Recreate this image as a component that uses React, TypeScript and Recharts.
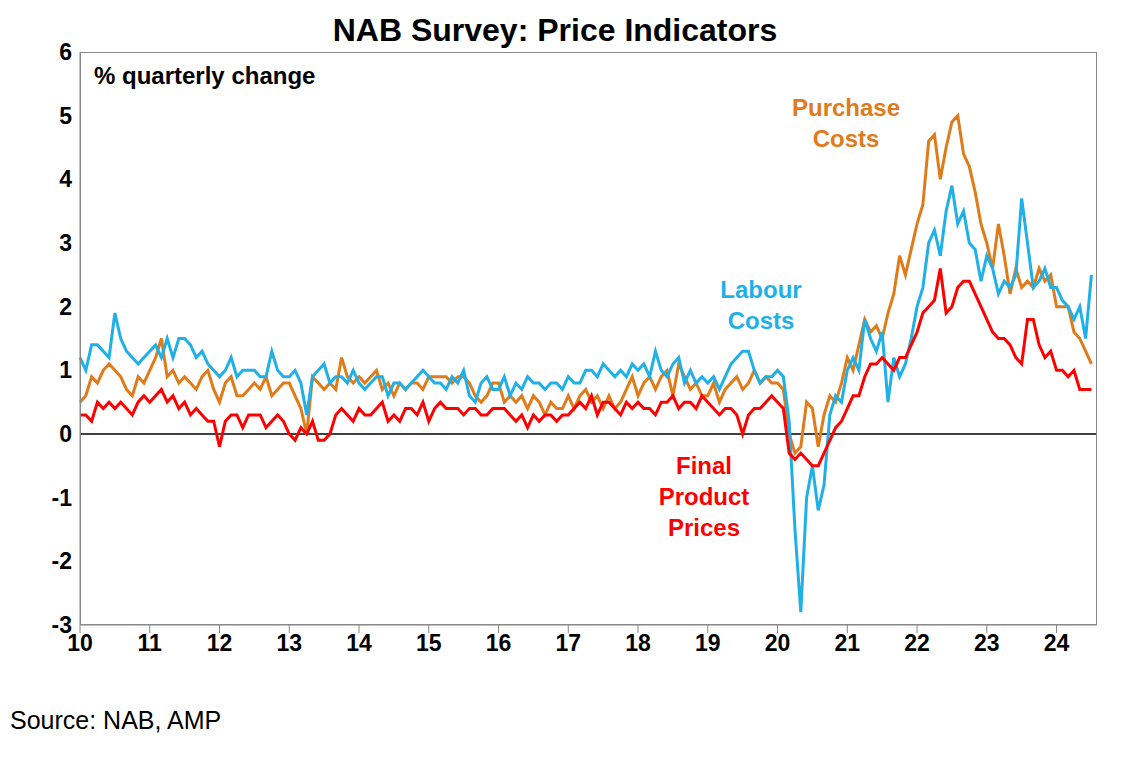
import { LineChart, Line, XAxis, YAxis, ReferenceLine } from "recharts";

const labour = [
  1.2,1.0,1.4,1.4,1.3,1.2,1.9,1.5,1.3,1.2,1.1,1.2,
  1.3,1.4,1.2,1.5,1.2,1.5,1.5,1.4,1.2,1.3,1.1,1.0,
  0.9,1.0,1.2,0.9,1.0,1.0,1.0,0.9,0.9,1.3,1.0,0.9,
  0.9,1.0,0.8,0.3,0.9,1.0,1.1,0.8,0.9,0.9,0.8,1.0,
  0.8,0.7,0.8,0.9,0.9,0.6,0.8,0.8,0.7,0.8,0.9,1.0,
  0.9,0.8,0.8,0.7,0.9,0.8,1.0,0.6,0.5,0.8,0.9,0.7,
  0.7,0.9,0.6,0.8,0.7,0.9,0.8,0.8,0.7,0.8,0.8,0.7,
  0.9,0.8,0.8,1.0,1.0,0.9,1.1,1.0,0.9,1.0,0.9,1.1,
  1.0,1.1,0.9,1.3,1.0,0.9,1.1,1.2,0.8,1.0,0.8,0.9,
  0.8,0.9,0.7,0.9,1.1,1.2,1.3,1.3,1.0,0.8,0.9,0.9,
  1.0,0.9,0.2,-1.5,-2.8,-1.0,-0.5,-1.2,-0.8,0.3,0.6,0.5,
  1.0,1.2,1.0,1.8,1.5,1.3,1.6,0.5,1.2,0.9,1.1,1.5,
  2.0,2.3,3.0,3.2,2.8,3.5,3.9,3.3,3.5,3.0,2.9,2.4,
  2.8,2.6,2.2,2.4,2.3,2.5,3.7,3.0,2.3,2.4,2.6,2.3,
  2.3,2.1,2.0,1.8,2.0,1.5,2.5,
];

const purchase = [
  0.5,0.6,0.9,0.8,1.0,1.1,1.0,0.9,0.7,0.6,0.9,0.8,
  1.0,1.2,1.5,0.9,1.0,0.8,0.9,0.8,0.7,0.9,1.0,0.7,
  0.5,0.8,0.9,0.6,0.6,0.7,0.8,0.7,0.9,0.6,0.7,0.8,
  0.8,0.6,0.4,0.0,0.9,0.8,0.7,0.8,0.7,1.2,0.9,0.8,
  0.9,0.8,0.9,1.0,0.7,0.8,0.6,0.8,0.7,0.8,0.8,0.7,
  0.9,0.9,0.9,0.9,0.8,0.9,0.9,0.8,0.6,0.5,0.6,0.8,
  0.8,0.5,0.6,0.5,0.6,0.4,0.6,0.5,0.3,0.5,0.4,0.4,
  0.6,0.4,0.6,0.7,0.5,0.6,0.4,0.6,0.4,0.5,0.7,0.9,
  0.6,0.8,0.9,0.7,0.9,1.0,0.6,1.1,0.9,0.7,0.8,0.6,
  0.6,0.8,0.5,0.7,0.8,0.9,0.7,0.8,1.0,0.8,0.9,0.8,
  0.8,0.7,0.0,-0.3,-0.2,0.5,0.4,-0.2,0.3,0.6,0.5,0.8,
  1.2,1.0,1.4,1.8,1.6,1.7,1.5,1.9,2.2,2.8,2.5,2.9,
  3.3,3.6,4.6,4.7,4.0,4.5,4.9,5.0,4.4,4.2,3.8,3.3,
  3.0,2.6,3.3,2.8,2.2,2.6,2.3,2.4,2.3,2.6,2.4,2.5,
  2.0,2.0,2.0,1.6,1.5,1.3,1.1,
];

const finalPrices = [
  0.3,0.3,0.2,0.5,0.4,0.5,0.4,0.5,0.4,0.3,0.5,0.6,
  0.5,0.6,0.7,0.5,0.6,0.4,0.5,0.3,0.4,0.3,0.2,0.2,
  -0.2,0.2,0.3,0.3,0.1,0.3,0.3,0.3,0.1,0.2,0.3,0.2,
  0.0,-0.1,0.1,0.0,0.2,-0.1,-0.1,0.0,0.3,0.4,0.3,0.2,
  0.4,0.3,0.3,0.4,0.5,0.2,0.3,0.2,0.4,0.4,0.3,0.5,
  0.2,0.4,0.5,0.4,0.4,0.4,0.3,0.4,0.4,0.3,0.3,0.4,
  0.4,0.4,0.3,0.2,0.3,0.1,0.3,0.2,0.3,0.3,0.2,0.3,
  0.3,0.4,0.5,0.4,0.6,0.3,0.5,0.5,0.4,0.3,0.5,0.4,
  0.5,0.4,0.4,0.3,0.5,0.5,0.6,0.4,0.5,0.5,0.4,0.6,
  0.5,0.4,0.3,0.4,0.4,0.3,0.0,0.3,0.4,0.4,0.5,0.6,
  0.5,0.4,-0.3,-0.4,-0.3,-0.4,-0.5,-0.5,-0.3,-0.1,0.1,0.2,
  0.4,0.6,0.6,0.9,1.1,1.1,1.2,1.1,1.0,1.2,1.2,1.4,
  1.6,1.9,2.0,2.1,2.6,1.9,2.0,2.3,2.4,2.4,2.2,2.0,
  1.8,1.6,1.5,1.5,1.4,1.2,1.1,1.8,1.8,1.4,1.2,1.3,
  1.0,1.0,0.9,1.0,0.7,0.7,0.7,
];

const xTicks = [10, 11, 12, 13, 14, 15, 16, 17, 18, 19, 20, 21, 22, 23, 24];
const yTicks = [-3, -2, -1, 0, 1, 2, 3, 4, 5, 6];

const data = labour.map((v, i) => ({
  x: 10 + i / 12,
  labour: v,
  purchase: purchase[i],
  final: finalPrices[i],
}));

const font = "'Liberation Sans', Arial, sans-serif";
const tickStyle = { fontSize: 23, fontWeight: 700, fill: "#000", fontFamily: font };

const label = (left: number, top: number, color: string, text: string, align: "left" | "center" = "center") => (
  <div
    style={{
      position: "absolute", left, top, color, fontFamily: font, fontWeight: 700,
      fontSize: 24, lineHeight: "31px", textAlign: align, whiteSpace: "pre",
      transform: align === "center" ? "translateX(-50%)" : undefined,
    }}
  >
    {text}
  </div>
);

export default function App() {
  return (
    <div style={{ position: "relative", width: 1110, height: 740 }}>
      <div style={{ position: "absolute", left: 0, width: 1094, top: 4, textAlign: "center", fontFamily: font, fontWeight: 700, fontSize: 32 }}>
        NAB Survey: Price Indicators
      </div>
      <LineChart width={1110} height={700} data={data} margin={{ top: 44, right: 21, bottom: 53, left: 22 }}>
        <XAxis
          dataKey="x" type="number" domain={[10, 24.58]} ticks={xTicks}
          tick={tickStyle} tickLine={{ stroke: "#888" }} axisLine={{ stroke: "#888" }}
          tickSize={8} height={30} interval={0}
        />
        <YAxis
          type="number" domain={[-3, 6]} ticks={yTicks} tick={tickStyle}
          tickLine={false} axisLine={{ stroke: "#888" }} width={50}
        />
        <ReferenceLine y={0} stroke="#000" strokeWidth={1.5} />
        <Line dataKey="purchase" stroke="#e07b1a" strokeWidth={3} dot={false} isAnimationActive={false} />
        <Line dataKey="labour" stroke="#1fb0e8" strokeWidth={3} dot={false} isAnimationActive={false} />
        <Line dataKey="final" stroke="#ff0000" strokeWidth={3} dot={false} isAnimationActive={false} />
      </LineChart>
      <div style={{ position: "absolute", left: 72, top: 44, width: 1017, height: 573, border: "1px solid #888", boxSizing: "border-box", pointerEvents: "none" }} />
      {label(86, 52, "#000", "% quarterly change", "left")}
      {label(838, 84, "#e07b1a", "Purchase\nCosts")}
      {label(753, 266, "#1fb0e8", "Labour\nCosts")}
      {label(696, 442, "#ff0000", "Final\nProduct\nPrices")}
      <div style={{ position: "absolute", left: 2, top: 698, fontFamily: font, fontSize: 25 }}>Source: NAB, AMP</div>
    </div>
  );
}
